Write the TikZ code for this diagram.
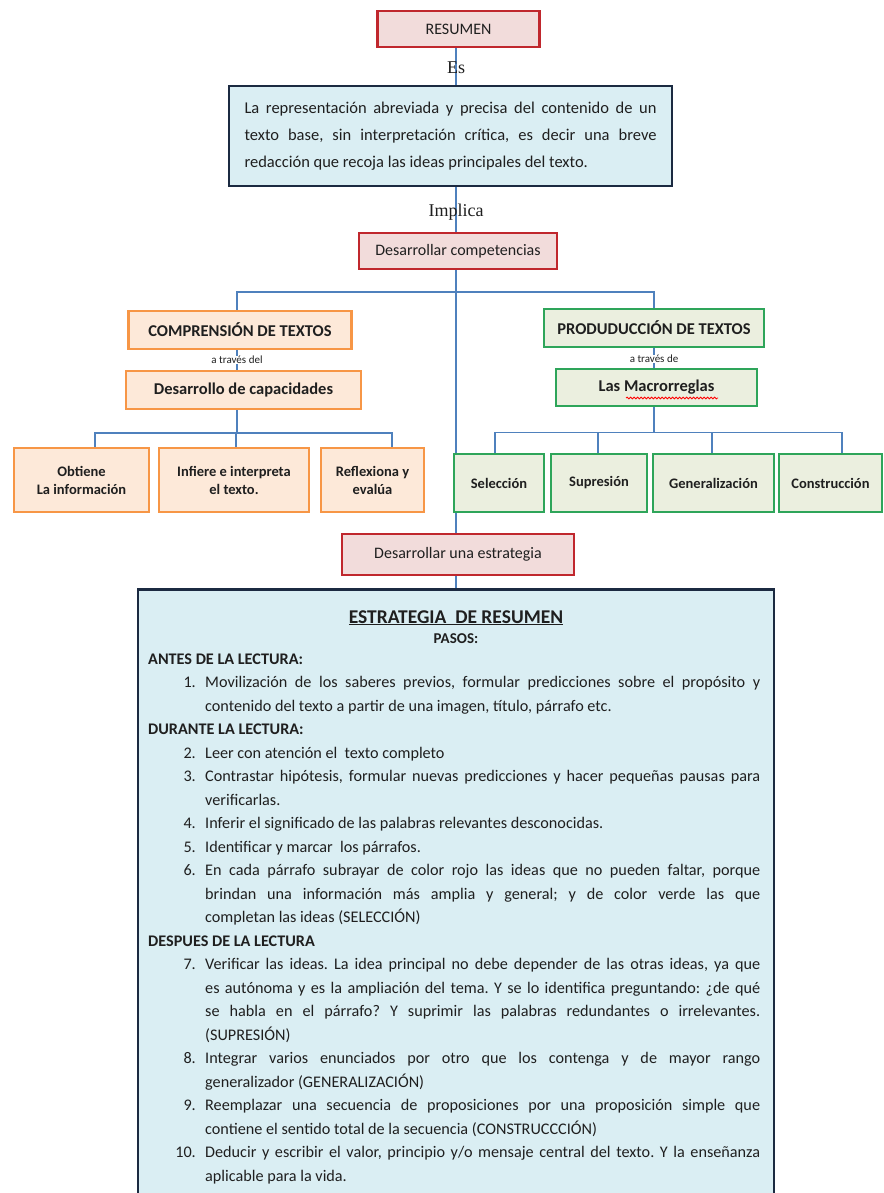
\documentclass[tikz,border=0pt]{standalone}
\usepackage{fontspec}
\setmainfont{Carlito}
\newfontfamily\verbfont{Liberation Serif}
\usetikzlibrary{backgrounds, decorations.pathmorphing}
\definecolor{redline}{HTML}{C0272D}
\definecolor{redfill}{HTML}{F2DCDB}
\definecolor{navyline}{HTML}{1B2A41}
\definecolor{bluefill}{HTML}{DAEEF3}
\definecolor{orangeline}{HTML}{F79646}
\definecolor{orangefill}{HTML}{FDE9D9}
\definecolor{greenline}{HTML}{2EA55A}
\definecolor{greenfill}{HTML}{EBEFDF}
\definecolor{linkcolor}{HTML}{4F81BD}
\definecolor{ink}{HTML}{1F1F1F}
\newcommand{\fsz}[2]{\fontsize{#1}{#2}\selectfont}
\tolerance=10000
\hyphenpenalty=10000
\frenchspacing

\begin{document}
\begin{tikzpicture}[
    x=1pt, y=-1pt,
    every node/.style={text=ink},
    redbox/.style={rectangle, draw=redline, fill=redfill, line width=2.6pt, font=\fsz{16}{19}},
    navybox/.style={rectangle, draw=navyline, fill=bluefill, line width=2.6pt},
    orangebox/.style={rectangle, draw=orangeline, fill=orangefill, line width=2.2pt, font=\bfseries\fsz{16.5}{19}},
    greenbox/.style={rectangle, draw=greenline, fill=greenfill, line width=2.6pt, font=\bfseries\fsz{16.5}{19}},
    leaf/.style={font=\bfseries\fsz{14.5}{18}, align=center},
    link/.style={linkcolor, line width=1.3pt},
    verbo/.style={font=\verbfont\fsz{18}{20}},
    via/.style={font=\fsz{11}{12}, inner sep=0.5pt, fill=white},
    stephead/.style={anchor=base west, inner sep=0pt, font=\bfseries\fsz{16.2}{23.5}},
    stepnum/.style={anchor=base east, inner sep=0pt, font=\fsz{16.2}{23.5}},
    steptext/.style={anchor=base west, inner sep=0pt, text width=555pt, align=justify, font=\fsz{16.2}{23.5}},
]
\useasboundingbox (0,0) rectangle (883,1193);
\coordinate (spine) at (456,0);
\coordinate (leftaxis) at (237,0);
\coordinate (rightaxis) at (654,0);

% ============================================================ top chain
\node[redbox, minimum width=162pt, minimum height=36pt] (resumen) at (458.5,29) {RESUMEN};
\node[verbo] (es) at (456,68) {Es};
\node[navybox, minimum width=443pt, minimum height=100pt, text width=412pt, align=justify, font=\fsz{16.5}{27}] (defin) at (450.5,136)
    {La representación abreviada y precisa del contenido de un\linebreak texto base, sin interpretación crítica, es decir una breve\linebreak redacción que recoja las ideas principales del texto.};
\node[verbo] (implica) at (456,212) {Implica};
\node[redbox, minimum width=198pt, minimum height=36pt] (compet) at (458,251) {Desarrollar competencias};

% ============================================================ comprension
\node[orangebox, minimum width=223pt, minimum height=38pt] (comp) at (240,330) {COMPRENSIÓN DE TEXTOS};
\node[via] (viadel) at (237,360) {a través del};
\node[orangebox, minimum width=235pt, minimum height=38pt] (capac) at (243.5,390) {Desarrollo de capacidades};
\node[orangebox, leaf, minimum width=135pt, minimum height=64pt] (obtiene) at (81.5,480) {Obtiene\\La información};
\node[orangebox, leaf, minimum width=150pt, minimum height=64pt] (infiere) at (234,480) {Infiere e interpreta\\el texto.};
\node[orangebox, leaf, minimum width=103pt, minimum height=64pt] (reflex) at (372.5,480) {Reflexiona y\\evalúa};

% ============================================================ produccion
\node[greenbox, minimum width=220pt, minimum height=38pt] (prod) at (654,328) {PRODUDUCCIÓN DE TEXTOS};
\node[via] (viade) at (654,359) {a través de};
\node[greenbox, minimum width=201pt, minimum height=37pt] (macro) at (656.5,387.5) {Las Macrorreglas};
\draw[red, line width=0.8pt, decorate, decoration={snake, amplitude=0.9pt, segment length=3.5pt}] (626,398) -- (718,398);
\node[greenbox, leaf, minimum width=90pt, minimum height=58pt] (selec) at (499,483) {Selección};
\node[greenbox, leaf, minimum width=96pt, minimum height=58pt] (supre) at (599,483) {Supresión};
\node[greenbox, leaf, minimum width=121pt, minimum height=58pt] (gener) at (713.5,483) {Generalización};
\node[greenbox, leaf, minimum width=103pt, minimum height=58pt] (constr) at (830.5,483) {Construcción};

% ============================================================ estrategia
\node[redbox, minimum width=232pt, minimum height=41pt] (estrat) at (458,554.5) {Desarrollar una estrategia};
\node[navybox, anchor=north, minimum width=636pt, minimum height=640pt] (estrbox) at (456,588) {};
\node[anchor=base, font=\bfseries\fsz{19.5}{22}] (titulo) at (456,623) {\underline{ESTRATEGIA\ \ DE RESUMEN}};
\node[anchor=base, font=\bfseries\fsz{15}{18}] (pasos) at (456,643) {PASOS:};

\node[stephead] (antes) at (148,664) {ANTES DE LA LECTURA:};
\node[stephead] (durante) at (148,734.5) {DURANTE LA LECTURA:};
\node[stephead] (despues) at (148,946) {DESPUES DE LA LECTURA};
\foreach \n/\y in {1/687.5, 2/758, 3/781.5, 4/828.5, 5/852, 6/875.5, 7/969.5, 8/1063.5, 9/1110.5, 10/1157.5}{
    \node[stepnum] (num\n) at (196,\y) {\n.};
}
\node[steptext] (paso1) at (205,687.5) {Movilización de los saberes previos, formular predicciones sobre el propósito y\linebreak contenido del texto a partir de una imagen, título, párrafo etc.};
\node[steptext] (paso2) at (205,758) {Leer con atención el\ \ texto completo};
\node[steptext] (paso3) at (205,781.5) {Contrastar hipótesis, formular nuevas predicciones y hacer pequeñas pausas para\linebreak verificarlas.};
\node[steptext] (paso4) at (205,828.5) {Inferir el significado de las palabras relevantes desconocidas.};
\node[steptext] (paso5) at (205,852) {Identificar y marcar\ \ los párrafos.};
\node[steptext] (paso6) at (205,875.5) {En cada párrafo subrayar de color rojo las ideas que no pueden faltar, porque\linebreak brindan una información más amplia y general; y de color verde las que\linebreak completan las ideas (SELECCIÓN)};
\node[steptext] (paso7) at (205,969.5) {Verificar las ideas. La idea principal no debe depender de las otras ideas, ya que\linebreak es autónoma y es la ampliación del tema. Y se lo identifica preguntando: ¿de qué\linebreak se habla en el párrafo? Y suprimir las palabras redundantes o irrelevantes.\linebreak (SUPRESIÓN)};
\node[steptext] (paso8) at (205,1063.5) {Integrar varios enunciados por otro que los contenga y de mayor rango\linebreak generalizador (GENERALIZACIÓN)};
\node[steptext] (paso9) at (205,1110.5) {Reemplazar una secuencia de proposiciones por una proposición simple que\linebreak contiene el sentido total de la secuencia (CONSTRUCCCIÓN)};
\node[steptext] (paso10) at (205,1157.5) {Deducir y escribir el valor, principio y/o mensaje central del texto. Y la enseñanza\linebreak aplicable para la vida.};

% ============================================================ connectors
\begin{scope}[on background layer]
\fill[white] (0,0) rectangle (883,1193);
\draw[link] (resumen.south -| spine) -- (defin.north -| spine);
\draw[link] (defin.south -| spine) -- (compet.north -| spine);
\draw[link] (compet.south -| spine) -- (estrat.north -| spine);
\draw[link] (estrat.south -| spine) -- (estrbox.north -| spine);
\draw[link] (comp.north -| leftaxis) -- ++(0,-18) -| (prod.north -| rightaxis);
\draw[link] (comp.south -| leftaxis) -- (capac.north -| leftaxis);
\draw[link] (prod.south -| rightaxis) -- (macro.north -| rightaxis);
\path (capac.south -| leftaxis) ++(0,23) coordinate (capfork);
\draw[link] (capac.south -| leftaxis) -- (capfork);
\foreach \leaf/\dx in {obtiene/13.5, infiere/2, reflex/19.5}{
    \draw[link] (capfork) -| ([xshift=\dx pt]\leaf.north);
}
\path (macro.south -| rightaxis) ++(0,25) coordinate (macfork);
\draw[link] (macro.south -| rightaxis) -- (macfork);
\foreach \leaf/\dx in {selec/-4, supre/-1, gener/-1.5, constr/11.5}{
    \draw[link] (macfork) -| ([xshift=\dx pt]\leaf.north);
}
\end{scope}

\end{tikzpicture}
\end{document}
